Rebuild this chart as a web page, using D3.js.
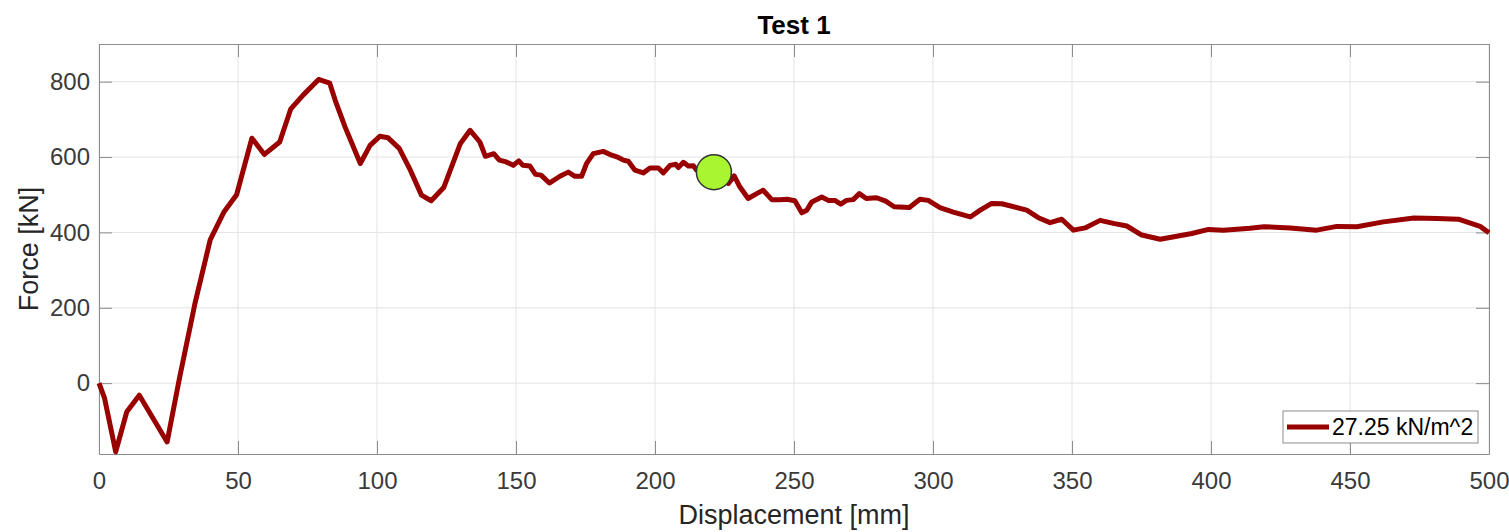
<!DOCTYPE html>
<html>
<head>
<meta charset="utf-8">
<script src="https://cdn.jsdelivr.net/npm/d3@7"></script>
<style>
  body { margin: 0; background: #fff; }
  svg { font-family: "Liberation Sans", Arial, sans-serif; }
  .axis text { fill: #3a3a3a; font-size: 24px; }
  .axis path { stroke: #8c8c8c; }
  .axis line { stroke: #8c8c8c; }
</style>
</head>
<body>
<div class="chart"></div>
<script>
// displacement [mm] and force [kN]
const disp = [0, 2, 6, 10, 14.5, 24.5, 29, 34.5, 40, 45, 49.5, 55, 59.5, 65, 69, 73.5, 79, 83,
  85, 88.5, 94, 97.5, 101, 104, 108, 112, 116, 119.5, 124, 130, 133.5, 137, 139, 142, 144, 146.5, 149, 151, 152.5, 155, 157, 159, 162,
  165.8, 168.8, 171.2, 173.6, 175.4, 177.8, 181.4, 184.4, 186.8, 188.6, 190.4, 192.8, 195.8, 198.2, 201.2, 203, 205.4, 207.5, 208.4, 210.2, 212, 213.8, 215,
  218, 221, 224, 226.4, 228.5, 230.5, 233.5, 236.6, 238.9, 242, 245, 247.5, 250.3, 252.8, 254.6, 256.4, 260, 262.3, 264.7, 266.8, 268.9, 271.3, 273.5, 276, 279.7, 283, 286, 291.5, 295.3, 298.3,
  302.5, 307.3, 313.4, 317, 321.1, 324.7, 328, 333.7, 337.9, 342.1, 346.3, 350.5, 354.7, 360.1, 364.9, 369.7, 375.1, 381.7, 387.7, 393.1, 399.1, 404.5,
  414, 419, 428.5, 438, 445.3, 452.5, 462, 473, 481.3, 489, 496.8, 500];
const force = [0, -40, -182, -76, -32, -156, 15, 211, 380, 455, 500, 650, 607, 640, 728, 765, 806, 796,
  750, 680, 583, 631, 655, 651, 623, 565, 499, 484, 519, 636, 671, 640, 602, 609, 592, 587, 578, 590, 578, 576, 554, 552, 531,
  549, 560, 549, 549, 583, 609, 615, 605, 599, 592, 589, 565, 558, 571, 571, 558, 578, 581, 572, 586, 576, 577, 565,
  566, 560, 548, 530, 550, 521, 490, 503, 512, 487, 487, 488, 484, 452, 459, 481, 494, 485, 485, 475, 485, 487, 503, 490, 492, 483, 468, 466, 488, 485,
  466, 454, 441, 459, 477, 476, 470, 459, 439, 426, 435, 406, 412, 432, 424, 417, 393, 382, 390, 397, 408, 406,
  411, 415, 412, 406, 416, 415, 428, 438, 437, 435, 416, 399];

const markerPt = {x: 221.2, y: 560};
const xTicks = [0, 50, 100, 150, 200, 250, 300, 350, 400, 450, 500];
const yTicks = [0, 200, 400, 600, 800];
const legendLabel = "27.25 kN/m^2";

const W = 1509, H = 532;
const margin = {top: 44, right: 20, bottom: 78, left: 99};
const width = W - margin.left - margin.right;
const height = H - margin.top - margin.bottom;

const svg = d3.select(".chart").append("svg")
  .attr("width", W).attr("height", H);
const g = svg.append("g")
  .attr("transform", `translate(${margin.left},${margin.top})`);

const x = d3.scaleLinear().domain([0, 500]).range([0, width]);
const y = d3.scaleLinear().domain([-188, 900]).range([height, 0]);

// grid
g.append("g").selectAll("line").data(xTicks).join("line")
  .attr("x1", d => x(d)).attr("x2", d => x(d))
  .attr("y1", 0).attr("y2", height)
  .attr("stroke", "#e3e3e3").attr("stroke-width", 1);
g.append("g").selectAll("line").data(yTicks).join("line")
  .attr("x1", 0).attr("x2", width)
  .attr("y1", d => y(d)).attr("y2", d => y(d))
  .attr("stroke", "#e3e3e3").attr("stroke-width", 1);

// axes, ticks inward like matlab
const tl = 13;
g.append("g").attr("class", "axis")
  .attr("transform", `translate(0,${height})`)
  .call(d3.axisBottom(x).tickValues(xTicks).tickSizeInner(-tl).tickSizeOuter(0))
  .call(a => a.selectAll("text").attr("dy", "0.71em").attr("y", 18));
g.append("g").attr("class", "axis")
  .call(d3.axisLeft(y).tickValues(yTicks).tickSizeInner(-tl).tickSizeOuter(0))
  .call(a => a.selectAll("text").attr("x", -9));
g.append("g").attr("class", "axis")
  .call(d3.axisTop(x).tickValues(xTicks).tickSizeInner(-tl).tickSizeOuter(0))
  .call(a => a.selectAll("text").remove());
g.append("g").attr("class", "axis")
  .attr("transform", `translate(${width},0)`)
  .call(d3.axisRight(y).tickValues(yTicks).tickSizeInner(-tl).tickSizeOuter(0))
  .call(a => a.selectAll("text").remove());

// data line
const line = d3.line().x((d, i) => x(disp[i])).y(d => y(d));
g.append("path")
  .datum(force)
  .attr("fill", "none")
  .attr("stroke", "#990000")
  .attr("stroke-width", 5)
  .attr("stroke-linejoin", "round")
  .attr("d", line);

// marker
g.append("circle")
  .attr("cx", x(markerPt.x)).attr("cy", y(markerPt.y))
  .attr("r", 17.5)
  .attr("fill", "#a8f530")
  .attr("stroke", "#333")
  .attr("stroke-width", 1.5);

// titles
svg.append("text")
  .attr("x", margin.left + width / 2).attr("y", 34)
  .attr("text-anchor", "middle")
  .attr("font-size", 26).attr("font-weight", "bold")
  .attr("fill", "#000")
  .text("Test 1");
svg.append("text")
  .attr("x", margin.left + width / 2).attr("y", 524)
  .attr("text-anchor", "middle")
  .attr("font-size", 27).attr("fill", "#262626")
  .text("Displacement [mm]");
svg.append("text")
  .attr("transform", `translate(38,${margin.top + height / 2}) rotate(-90)`)
  .attr("text-anchor", "middle")
  .attr("font-size", 27).attr("fill", "#262626")
  .text("Force [kN]");

// legend
const lg = svg.append("g").attr("transform", "translate(1283,411)");
lg.append("rect")
  .attr("width", 195).attr("height", 32)
  .attr("fill", "#fff").attr("stroke", "#8c8c8c").attr("stroke-width", 1);
lg.append("line")
  .attr("x1", 4).attr("x2", 46).attr("y1", 16).attr("y2", 16)
  .attr("stroke", "#990000").attr("stroke-width", 5);
lg.append("text")
  .attr("x", 49).attr("y", 24)
  .attr("font-size", 23).attr("fill", "#000")
  .text(legendLabel);
</script>
</body>
</html>
